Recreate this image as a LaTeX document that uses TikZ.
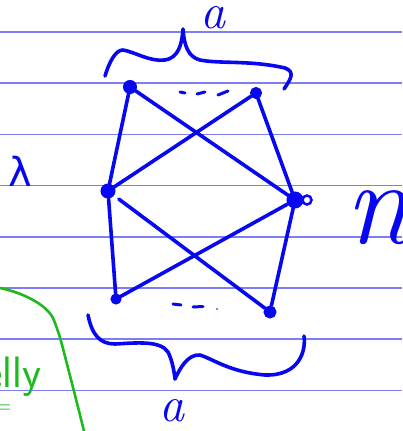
\documentclass[tikz,border=0pt]{standalone}
\usepackage{fontspec}
\newfontfamily\dvs{DejaVu Sans}
\definecolor{inkblue}{RGB}{8,8,240}
\definecolor{rulecol}{RGB}{125,125,250}
\definecolor{inkgreen}{RGB}{30,185,30}
\begin{document}
\begin{tikzpicture}[x=1pt,y=-1pt,
  ink/.style={draw=inkblue, line width=3.6pt, line cap=round, line join=round},
  thin ink/.style={draw=inkblue, line width=3pt, line cap=round, line join=round},
  vtx/.style={circle, draw=inkblue, fill=inkblue, line width=2pt, inner sep=0pt, minimum size=12pt},
  ruleline/.style={draw=rulecol, line width=1.6pt},
  green ink/.style={draw=inkgreen, line width=2.6pt, line cap=round, line join=round},
  lbl/.style={text=inkblue, inner sep=0pt}]
\useasboundingbox (0,0) rectangle (402,431);
\clip (0,0) rectangle (402,431);
\fill[white] (0,0) rectangle (402,431);
% ruled lines
\foreach \yy in {32,83.2,134.4,185.6,236.8,288,339.2,390.4}
  \draw[ruleline] (0,\yy) -- (402,\yy);
% vertices
\node[vtx] (tl) at (130,87) {};
\node[vtx, minimum size=10pt] (tr) at (256,93) {};
\node[vtx, minimum size=13pt] (ml) at (108,191) {};
\node[vtx, minimum size=15pt] (mr) at (295,200) {};
\node[vtx, minimum size=9pt] (bl) at (116,299) {};
\node[vtx, minimum size=11pt] (br) at (270,312) {};
\draw[inkblue, line width=2.5pt] (307,200) circle (4.5pt);
% edges
\draw[ink] (tl) -- (ml);
\draw[ink] (tl) -- (mr);
\draw[ink] (tr) -- (ml);
\draw[ink] (tr) -- (mr);
\draw[ink] (ml) -- (bl);
\draw[ink, shorten <=6pt] (ml) -- (br);
\draw[ink] (mr) -- (bl);
\draw[ink] (mr) -- (br);
% dots
\draw[thin ink] (180,92) -- (185,93);
\draw[thin ink] (197,94) -- (205,92);
\draw[thin ink] (218,95) -- (228,91);
\draw[thin ink] (173,304) -- (181,305);
\draw[thin ink] (193,307) -- (203,306.5);
\fill[inkblue] (217,309) circle (0.9pt);
% top brace
\draw[ink] (105,76) .. controls (110,60) and (116,50) .. (123,50)
  .. controls (135,52) and (150,62) .. (165,60)
  .. controls (178,58) and (182,45) .. (183,29)
  .. controls (184,45) and (188,57) .. (200,60)
  .. controls (220,64) and (250,60) .. (285,68)
  .. controls (296,72) and (290,80) .. (284,89);
\node[lbl, font=\fontsize{50}{50}\selectfont\itshape] (atop) at (213,18) {a};
% bottom brace
\draw[ink] (88,315) .. controls (92,335) and (100,344) .. (115,344)
  .. controls (135,343) and (160,340) .. (168,352)
  .. controls (172,360) and (174,370) .. (175,379)
  .. controls (180,368) and (188,354) .. (200,355)
  .. controls (215,360) and (230,372) .. (265,375)
  .. controls (300,376) and (306,350) .. (304,336);
\node[lbl, font=\fontsize{50}{50}\selectfont\itshape] (abot) at (172,411) {a};
% side labels
\node[lbl, font=\fontsize{40}{40}\selectfont\dvs, anchor=base] (lam) at (20,186) {λ};
\node[lbl, font=\fontsize{120}{120}\selectfont\itshape, anchor=base west] (nr) at (345,243) {n};
% green annotation
\draw[green ink] (0,288) .. controls (20,292) and (45,303) .. (53,318)
  .. controls (60,335) and (62,345) .. (68,368)
  .. controls (75,395) and (80,415) .. (84,431);
\node[text=inkgreen, inner sep=0pt, anchor=base west, font=\fontsize{44}{44}\selectfont\sffamily] (elly) at (-16,387) {elly};
\node[text=inkgreen, inner sep=0pt, anchor=west, font=\fontsize{24}{24}\selectfont] (eq) at (-6,409) {=};
\end{tikzpicture}
\end{document}
